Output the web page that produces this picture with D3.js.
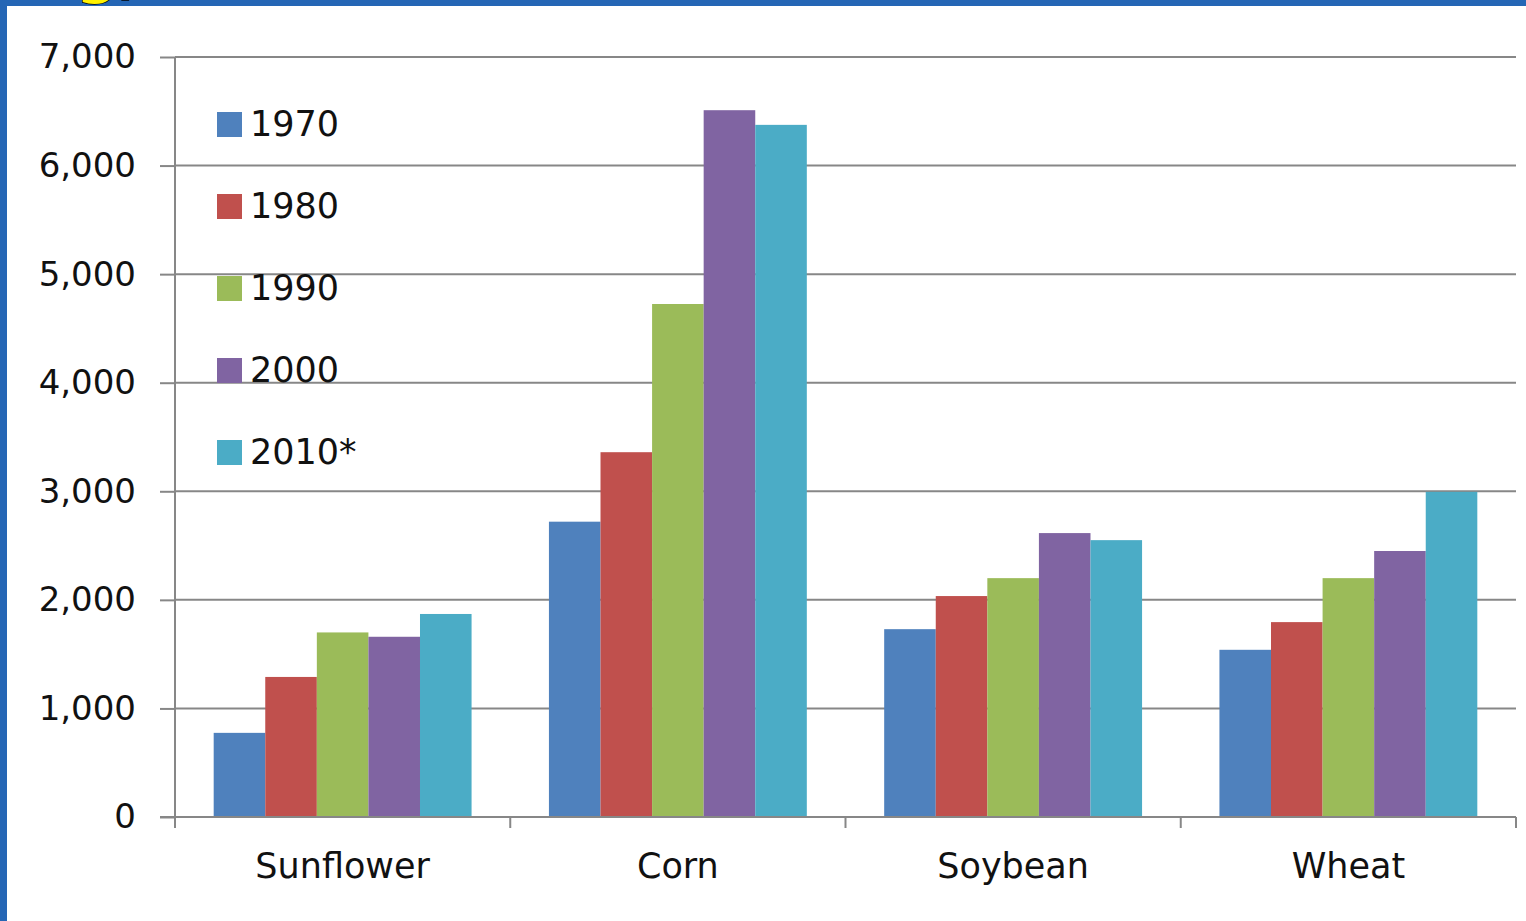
<!DOCTYPE html>
<html>
<head>
<meta charset="utf-8">
<script src="https://cdn.jsdelivr.net/npm/d3@7/dist/d3.min.js"></script>
<style>
  html, body { margin: 0; padding: 0; background: #ffffff; }
  svg { display: block; }
  text { font-family: "DejaVu Sans", sans-serif; fill: #111111; }
</style>
</head>
<body>
<svg id="chart" width="1526" height="921"></svg>
<script>
// Crop categories and the survey years shown as clustered bars
const categories = ["Sunflower", "Corn", "Soybean", "Wheat"];
const years = ["1970", "1980", "1990", "2000", "2010*"];
const colors = ["#4F81BD", "#C0504D", "#9BBB59", "#8064A2", "#4BACC6"];

// Values per year, in category order
const v1970 = [775, 2720, 1730, 1540];
const v1980 = [1290, 3360, 2035, 1795];
const v1990 = [1700, 4725, 2200, 2200];
const v2000 = [1660, 6510, 2615, 2450];
const v2010 = [1870, 6375, 2550, 2995];
const seriesValues = [v1970, v1980, v1990, v2000, v2010];

const yTicks = [0, 1000, 2000, 3000, 4000, 5000, 6000, 7000];

const svg = d3.select("#chart");
const W = 1526, H = 921;
const plot = { left: 175, right: 1516, top: 57, bottom: 817 };
const axisColor = "#878787";

// Frame: blue band along the top and left edges
svg.append("rect").attr("x", 0).attr("y", 0).attr("width", W).attr("height", H).attr("fill", "#ffffff");
svg.append("rect").attr("x", 0).attr("y", 0).attr("width", W).attr("height", 6).attr("fill", "#2566B5");
svg.append("rect").attr("x", 0).attr("y", 0).attr("width", 7).attr("height", H).attr("fill", "#2566B5");

// Title sitting above the frame; only its descenders show
svg.append("text")
  .attr("x", 76).attr("y", -9)
  .style("font-size", "60px").style("font-weight", "bold")
  .style("fill", "#FFF200").style("stroke", "#000").style("stroke-width", 1.5)
  .style("paint-order", "stroke")
  .text("g,");

const x = d3.scaleBand().domain(categories).range([plot.left, plot.right]).paddingInner(0).paddingOuter(0);
const xs = d3.scaleBand().domain(years).range([0, x.bandwidth()]).paddingInner(0).paddingOuter(0.75);
const y = d3.scaleLinear().domain([0, 7000]).range([plot.bottom, plot.top]);

// Horizontal gridlines
svg.append("g").selectAll("line").data(yTicks.filter(d => d > 0)).join("line")
  .attr("x1", plot.left).attr("x2", plot.right)
  .attr("y1", d => y(d)).attr("y2", d => y(d))
  .attr("stroke", axisColor).attr("stroke-width", 2);

// Y axis with comma-formatted labels
const yAxis = svg.append("g")
  .attr("transform", `translate(${plot.left},0)`)
  .call(d3.axisLeft(y).tickValues(yTicks).tickFormat(d3.format(",")).tickSize(15).tickPadding(24));
yAxis.select(".domain").attr("stroke", axisColor).attr("stroke-width", 2)
  .attr("d", `M0,${plot.top}V${plot.bottom + 11}`);
yAxis.selectAll(".tick line").attr("stroke", axisColor).attr("stroke-width", 2);
yAxis.selectAll(".tick text").style("font-size", "34px").attr("fill", "#111111")
  .style("font-family", "'DejaVu Sans', sans-serif");

// Legend
const legend = svg.append("g");
years.forEach((yr, i) => {
  const top = 112 + i * 82;
  legend.append("rect").attr("x", 217).attr("y", top).attr("width", 25).attr("height", 25)
    .attr("fill", colors[i]);
  legend.append("text").attr("x", 250).attr("y", top + 24)
    .style("font-size", "35px").text(yr);
});

// Clustered bars
const groups = svg.append("g").selectAll("g").data(categories).join("g")
  .attr("transform", d => `translate(${x(d)},0)`);
groups.selectAll("rect")
  .data((c, ci) => years.map((yr, si) => ({ yr, si, value: seriesValues[si][ci] })))
  .join("rect")
  .attr("x", d => xs(d.yr))
  .attr("width", xs.bandwidth())
  .attr("y", d => y(d.value))
  .attr("height", d => y(0) - y(d.value))
  .attr("fill", d => colors[d.si]);

// X axis line and category boundary ticks
const xAxis = svg.append("g");
xAxis.append("line").attr("x1", 160).attr("x2", plot.right)
  .attr("y1", plot.bottom).attr("y2", plot.bottom)
  .attr("stroke", axisColor).attr("stroke-width", 2);
const bounds = categories.map(c => x(c)).concat([x(categories[categories.length - 1]) + x.bandwidth()]);
xAxis.selectAll("line.tick").data(bounds.slice(1)).join("line").attr("class", "tick")
  .attr("x1", d => d).attr("x2", d => d)
  .attr("y1", plot.bottom).attr("y2", plot.bottom + 11)
  .attr("stroke", axisColor).attr("stroke-width", 2);
xAxis.selectAll("text").data(categories).join("text")
  .attr("x", d => x(d) + x.bandwidth() / 2)
  .attr("y", 878)
  .attr("text-anchor", "middle")
  .style("font-size", "35px")
  .text(d => d);
</script>
</body>
</html>
